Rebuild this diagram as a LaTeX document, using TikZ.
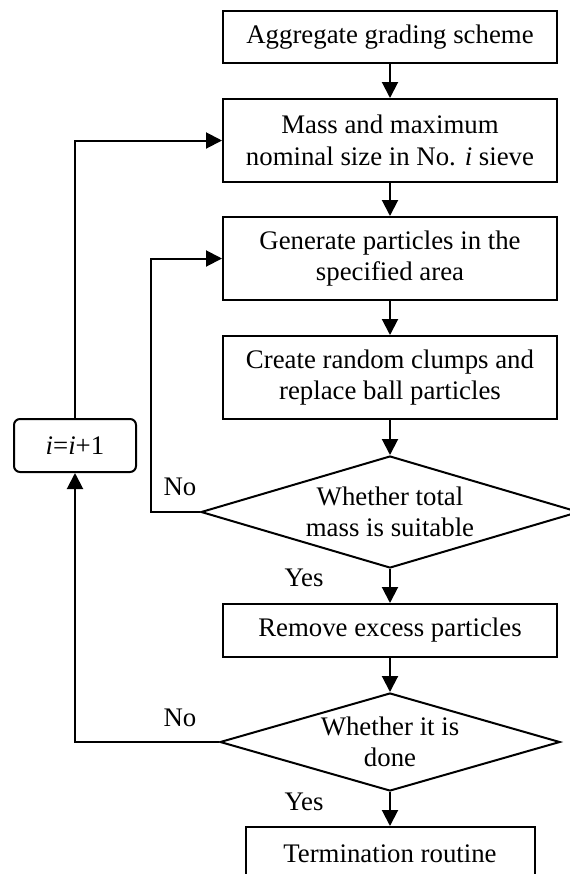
\documentclass[tikz,border=0pt]{standalone}
\usepackage{fontspec}
\setmainfont{Liberation Serif}
\usetikzlibrary{shapes.geometric,arrows.meta}
\begin{document}
\begin{tikzpicture}[x=0.5pt,y=-0.5pt,line width=1pt,
    font=\fontsize{13.4}{15.75}\selectfont,
    box/.style={draw,rectangle,align=center,minimum width=167pt},
    test/.style={draw,diamond,align=center,inner sep=0pt},
    arr/.style={-{Triangle[length=8pt,width=8pt]}}]
      \useasboundingbox (0,0) rectangle (569,874);
      \node[box,minimum height=26pt] (grading) at (390,37) {Aggregate grading scheme};
      \node[box,minimum height=41.5pt] (sieve) at (390,140.5) {Mass and maximum\\nominal size in No. \textit{i} sieve};
      \node[box,minimum height=41.5pt] (generate) at (390,258.5) {Generate particles in the\\specified area};
      \node[box,minimum height=41.5pt] (clumps) at (390,377.5) {Create random clumps and\\replace ball particles};
      \node[test,aspect=3.375,minimum width=189pt,minimum height=56pt] (mass) at (390,512) {Whether total\\mass is suitable};
      \node[box,minimum height=26.5pt] (remove) at (390,630.5) {Remove excess particles};
      \node[test,aspect=3.47,minimum width=170pt,minimum height=49pt] (done) at (390,742) {Whether it is\\done};
      \node[box,minimum width=144.5pt,minimum height=26.5pt] (stop) at (390,853.5) {Termination routine};
      \node[draw,rounded corners=3pt,minimum width=61pt,minimum height=26.5pt] (inc) at (75,445.5) {\textit{i}=\textit{i}+1};
      \node (no1) at (180,487) {No};
      \node (yes1) at (304,578) {Yes};
      \node (no2) at (180,718) {No};
      \node (yes2) at (304,802) {Yes};
      \draw[arr] (grading) -- (sieve);
      \draw[arr] (sieve) -- (generate);
      \draw[arr] (generate) -- (clumps);
      \draw[arr] (clumps) -- (mass);
      \draw[arr] (mass) -- (remove);
      \draw[arr] (remove) -- (done);
      \draw[arr] (done) -- (stop);
      \draw[arr] (mass.west) -- ++(-49,0) |- (generate.west);
      \draw[arr] (done.west) -| (inc.south);
      \draw[arr] (inc.north) |- (sieve.west);
    \end{tikzpicture}
\end{document}
